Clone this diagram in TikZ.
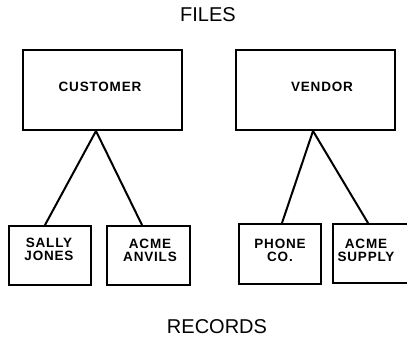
\documentclass[tikz,border=0pt]{standalone}
\usepackage{fontspec}
\setmainfont{Liberation Sans}
\usetikzlibrary{calc}
\tikzset{
  box/.style={draw=black, line width=2pt, fill=white, inner sep=0pt},
  lbl/.style={font=\fontsize{13.5}{13}\selectfont\bfseries\addfontfeatures{LetterSpace=6}, align=center, inner sep=0pt},
  title/.style={font=\fontsize{20}{20}\selectfont, inner sep=0pt},
  link/.style={line width=2pt, line cap=round}
}
\begin{document}
\begin{tikzpicture}[x=1pt,y=-1pt]
\useasboundingbox (0,0) rectangle (407,340);
\node[title] (files) at (208,15) {FILES};
\node[title] (records) at (217,327) {RECORDS};
\node[box, minimum width=159pt, minimum height=80pt] (cust) at (102.5,90) {};
\node[box, minimum width=159pt, minimum height=80pt] (vend) at (315.5,90) {};
\node[box, minimum width=82pt, minimum height=59pt] (sally) at (50,255.5) {};
\node[box, minimum width=83pt, minimum height=59pt] (anvil) at (148.5,255.5) {};
\node[box, minimum width=82pt, minimum height=60pt] (phone) at (280,254) {};
\node[box, minimum width=82pt, minimum height=59pt] (supply) at (374,253.5) {};
\node[lbl] (custt) at (100,87) {CUSTOMER};
\node[lbl] (vendt) at (322,87) {VENDOR};
\node[lbl] (sallyt) at (49,249) {SALLY\\JONES};
\node[lbl] (anvilt) at (150,250) {ACME\\ANVILS};
\node[lbl] (phonet) at (280,250) {PHONE\\CO.};
\node[lbl] (supplyt) at (366,250) {ACME\\SUPPLY};
\draw[link] ($(cust.south)+(-6.5,0)$) -- ($(sally.north)+(-5,0)$);
\draw[link] ($(cust.south)+(-6.5,0)$) -- ($(anvil.north)+(-6.5,0)$);
\draw[link] ($(vend.south)+(-2.5,0)$) -- ($(phone.north)+(2,0)$);
\draw[link] ($(vend.south)+(-2.5,0)$) -- ($(supply.north)+(-6,0)$);
\end{tikzpicture}
\end{document}
